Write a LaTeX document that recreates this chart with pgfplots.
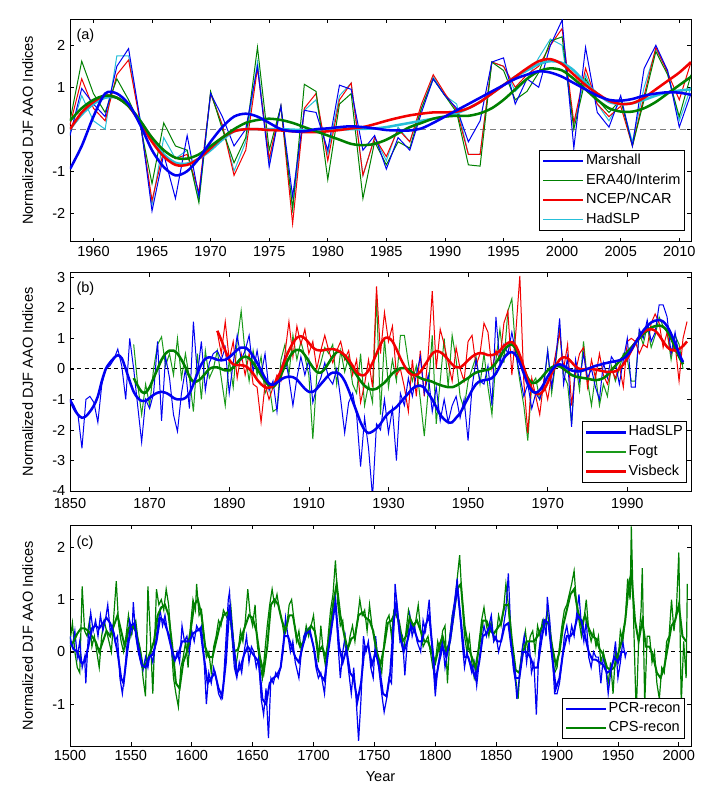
\documentclass[border=0pt]{standalone}
\usepackage{fontspec}
\setmainfont{Liberation Sans}
\usepackage{pgfplots}
\pgfplotsset{compat=1.18}
\definecolor{mblue}{rgb}{0,0,0.95}
\definecolor{mgreen}{rgb}{0,0.5,0}
\definecolor{lgreen}{rgb}{0.1,0.6,0.1}
\definecolor{mred}{rgb}{0.95,0,0}
\definecolor{mcyan}{rgb}{0.15,0.75,0.85}
\newcommand{\fs}{\fontsize{10.9}{12.5}\selectfont}
\pgfplotsset{
  panel/.style={scale only axis, width=465.75pt,
    axis line style={line width=0.5pt}, tick style={black,line width=0.5pt},
    major tick length=3pt, tick align=inside,
    tick label style={font=\fs}, label style={font=\fs},
    /pgf/number format/assume math mode=true, /pgf/number format/1000 sep={},
    ylabel={Normalized DJF AAO Indices},
    ylabel style={at={(axis description cs:-0.068,0.5)}, anchor=center},
    legend cell align=left,
    legend image code/.code={\draw[##1] (0pt,0pt) -- (30pt,0pt);},
    legend style={draw=black, fill=white, font=\fs, inner sep=2pt, row sep=2.2pt,
      nodes={inner sep=1pt, text height=8pt, text depth=2.5pt}},
  },
  thin/.style={line width=0.75pt, forget plot},
  thick/.style={line width=1.9pt, forget plot},
}
\begin{document}
\begin{tikzpicture}
\path[use as bounding box] (0,0) rectangle (542.25pt,600.75pt);
% ---------------- (a)
\begin{axis}[panel, at={(52.5pt,419.5pt)}, anchor=south west, height=166.8pt,
  xmin=1958, xmax=2011, ymin=-2.68, ymax=2.62,
  xtick={1960,1965,...,2010}, ytick={-2,-1,0,1,2},
  legend style={at={(0.99,0.048)}, anchor=south east}]
\addplot[gray, dashed, line width=0.6pt, dash pattern=on 4.5pt off 3pt, forget plot] coordinates {(1958,0) (2011,0)};
% HadSLP thin
\addplot[mcyan, thin] coordinates {(1958,-0.1)(1959,0.8)(1960,0.2)(1961,0.0)(1962,1.75)(1963,1.75)(1964,0.2)(1965,-1.8)(1966,-0.2)(1967,-0.7)(1968,-0.5)(1969,-1.7)(1970,0.85)(1971,0.1)(1972,-1.0)(1973,-0.3)(1974,1.6)(1975,-0.8)(1976,0.55)(1977,-1.9)(1978,0.45)(1979,0.7)(1980,-0.6)(1981,0.8)(1982,1.1)(1983,-1.1)(1984,-0.2)(1985,-0.75)(1986,0.05)(1987,-0.3)(1988,0.5)(1989,1.25)(1990,0.8)(1991,0.6)(1992,-0.6)(1993,-0.6)(1994,1.6)(1995,1.5)(1996,0.9)(1997,1.2)(1998,1.7)(1999,2.15)(2000,2.0)(2001,0.1)(2002,1.3)(2003,0.6)(2004,0.2)(2005,0.7)(2006,-0.3)(2007,1.0)(2008,1.9)(2009,1.4)(2010,0.2)(2011,1.0)};
% NCEP thin
\addplot[mred, thin] coordinates {(1958,0.1)(1959,1.2)(1960,0.5)(1961,0.2)(1962,1.3)(1963,1.65)(1964,0.15)(1965,-1.7)(1966,-0.5)(1967,-0.7)(1968,-0.6)(1969,-1.5)(1970,0.85)(1971,0.1)(1972,-1.1)(1973,-0.5)(1974,1.45)(1975,-0.7)(1976,0.55)(1977,-2.25)(1978,0.5)(1979,0.85)(1980,-0.75)(1981,0.7)(1982,1.1)(1983,-1.1)(1984,-0.2)(1985,-0.65)(1986,0.0)(1987,-0.3)(1988,0.6)(1989,1.3)(1990,0.85)(1991,0.45)(1992,-0.6)(1993,-0.6)(1994,1.6)(1995,1.5)(1996,1.0)(1997,1.3)(1998,1.5)(1999,2.0)(2000,2.4)(2001,0.15)(2002,1.45)(2003,0.6)(2004,0.3)(2005,0.55)(2006,-0.4)(2007,0.8)(2008,1.95)(2009,1.35)(2010,0.7)(2011,1.6)};
% ERA thin
\addplot[mgreen, thin] coordinates {(1958,0.2)(1959,1.62)(1960,0.85)(1961,0.4)(1962,1.2)(1963,0.7)(1964,0.1)(1965,-1.3)(1966,0.15)(1967,-0.4)(1968,-0.5)(1969,-1.75)(1970,0.9)(1971,0.0)(1972,-0.8)(1973,-0.2)(1974,1.95)(1975,-0.5)(1976,0.55)(1977,-1.9)(1978,1.07)(1979,0.9)(1980,-1.2)(1981,0.6)(1982,0.85)(1983,-1.65)(1984,-0.3)(1985,-0.85)(1986,-0.3)(1987,-0.45)(1988,0.5)(1989,1.2)(1990,0.8)(1991,0.4)(1992,-0.85)(1993,-0.88)(1994,1.6)(1995,1.4)(1996,0.7)(1997,0.9)(1998,1.35)(1999,2.1)(2000,2.2)(2001,0.0)(2002,1.2)(2003,0.7)(2004,0.4)(2005,0.7)(2006,-0.4)(2007,0.7)(2008,1.85)(2009,1.3)(2010,0.3)(2011,1.3)};
% Marshall thin
\addplot[mblue, thin] coordinates {(1958,-0.15)(1959,0.97)(1960,0.6)(1961,0.3)(1962,1.5)(1963,1.92)(1964,0.2)(1965,-1.95)(1966,-0.6)(1967,-1.65)(1968,-0.15)(1969,-1.6)(1970,0.85)(1971,0.3)(1972,-0.4)(1973,0.0)(1974,1.5)(1975,-0.9)(1976,0.55)(1977,-1.6)(1978,0.45)(1979,0.4)(1980,-0.5)(1981,1.05)(1982,0.95)(1983,-0.5)(1984,-0.15)(1985,-0.95)(1986,-0.2)(1987,-0.5)(1988,0.4)(1989,1.2)(1990,0.8)(1991,0.5)(1992,-0.3)(1993,0.2)(1994,1.6)(1995,1.7)(1996,0.6)(1997,1.2)(1998,1.0)(1999,2.0)(2000,2.6)(2001,-0.45)(2002,1.95)(2003,0.4)(2004,0.05)(2005,0.8)(2006,-0.4)(2007,1.45)(2008,2.0)(2009,1.4)(2010,0.05)(2011,0.85)};
% smoothed
\addplot[mcyan, thick, smooth] coordinates {(1958,0.0)(1959,0.35)(1960,0.6)(1961,0.75)(1962,0.75)(1963,0.55)(1964,0.2)(1965,-0.25)(1966,-0.6)(1967,-0.8)(1968,-0.82)(1969,-0.7)(1970,-0.5)(1971,-0.25)(1972,-0.05)(1973,0.0)(1974,0.0)(1976,0.0)(1978,-0.02)(1980,0.0)(1982,0.0)(1984,0.02)(1985,0.05)(1986,0.1)(1987,0.15)(1988,0.2)(1989,0.25)(1990,0.3)(1991,0.38)(1992,0.5)(1993,0.65)(1994,0.85)(1995,1.05)(1996,1.25)(1997,1.4)(1998,1.55)(1999,1.62)(2000,1.58)(2001,1.4)(2002,1.1)(2003,0.85)(2004,0.65)(2005,0.6)(2006,0.62)(2007,0.7)(2008,0.8)(2009,0.88)(2010,0.92)(2011,0.95)};
\addplot[mred, thick, smooth] coordinates {(1958,0.0)(1959,0.4)(1960,0.65)(1961,0.8)(1962,0.75)(1963,0.55)(1964,0.15)(1965,-0.3)(1966,-0.65)(1967,-0.85)(1968,-0.85)(1969,-0.7)(1970,-0.45)(1971,-0.2)(1972,-0.05)(1973,0.0)(1974,0.0)(1975,-0.02)(1976,-0.03)(1977,-0.05)(1978,-0.07)(1979,-0.07)(1980,-0.05)(1981,-0.02)(1982,0.02)(1983,0.05)(1984,0.12)(1985,0.2)(1986,0.27)(1987,0.33)(1988,0.37)(1989,0.4)(1990,0.4)(1991,0.42)(1992,0.5)(1993,0.65)(1994,0.85)(1995,1.05)(1996,1.25)(1997,1.45)(1998,1.62)(1999,1.67)(2000,1.55)(2001,1.3)(2002,1.05)(2003,0.85)(2004,0.68)(2005,0.6)(2006,0.62)(2007,0.75)(2008,0.95)(2009,1.15)(2010,1.35)(2011,1.6)};
\addplot[mgreen, thick, smooth] coordinates {(1958,0.2)(1959,0.5)(1960,0.7)(1961,0.8)(1962,0.75)(1963,0.55)(1964,0.2)(1965,-0.2)(1966,-0.5)(1967,-0.68)(1968,-0.7)(1969,-0.6)(1970,-0.4)(1971,-0.2)(1972,0.0)(1973,0.15)(1974,0.22)(1975,0.25)(1976,0.22)(1977,0.15)(1978,0.05)(1979,-0.05)(1980,-0.15)(1981,-0.25)(1982,-0.35)(1983,-0.38)(1984,-0.35)(1985,-0.25)(1986,-0.1)(1987,0.05)(1988,0.15)(1989,0.25)(1990,0.3)(1991,0.32)(1992,0.32)(1993,0.38)(1994,0.5)(1995,0.7)(1996,0.95)(1997,1.2)(1998,1.38)(1999,1.45)(2000,1.4)(2001,1.2)(2002,0.95)(2003,0.7)(2004,0.5)(2005,0.42)(2006,0.42)(2007,0.5)(2008,0.65)(2009,0.85)(2010,1.05)(2011,1.25)};
\addplot[mblue, thick, smooth] coordinates {(1958,-0.95)(1959,-0.4)(1960,0.3)(1961,0.85)(1962,0.85)(1963,0.6)(1964,0.1)(1965,-0.5)(1966,-0.9)(1967,-1.1)(1968,-1.0)(1969,-0.7)(1970,-0.3)(1971,0.05)(1972,0.3)(1973,0.37)(1974,0.3)(1975,0.15)(1976,0.0)(1977,-0.05)(1978,-0.05)(1979,0.0)(1980,0.02)(1981,0.05)(1982,0.07)(1983,0.05)(1984,0.02)(1985,-0.02)(1986,-0.03)(1987,-0.03)(1988,0.02)(1989,0.15)(1990,0.3)(1991,0.45)(1992,0.6)(1993,0.75)(1994,0.9)(1995,1.05)(1996,1.2)(1997,1.3)(1998,1.38)(1999,1.35)(2000,1.25)(2001,1.1)(2002,0.95)(2003,0.8)(2004,0.7)(2005,0.68)(2006,0.72)(2007,0.8)(2008,0.85)(2009,0.88)(2010,0.87)(2011,0.82)};
% legend entries
\addlegendimage{mblue, line width=1.9pt}\addlegendentry{Marshall}
\addlegendimage{mgreen, line width=1.2pt}\addlegendentry{ERA40/Interim}
\addlegendimage{mred, line width=1.3pt}\addlegendentry{NCEP/NCAR}
\addlegendimage{mcyan, line width=1pt}\addlegendentry{HadSLP}
\node[font=\fs, anchor=west] at (rel axis cs:0.003,0.925) {(a)};
\end{axis}
% ---------------- (b)
\begin{axis}[panel, at={(52.5pt,232.5pt)}, anchor=south west, height=163.7pt,
  xmin=1850, xmax=2006, ymin=-4, ymax=3.15,
  xtick={1850,1870,...,1990}, ytick={-4,-3,...,3},
  xticklabel style={yshift=-2pt},
  legend style={at={(0.9936,0.038)}, anchor=south east}]
\addplot[black, dashed, line width=0.6pt, dash pattern=on 3pt off 2.5pt, forget plot] coordinates {(1850,0) (2006,0)};
% Fogt thin
\addplot[lgreen, thin] coordinates {(1866,0.8)(1867,-0.5)(1868,-1.5)(1869,-0.5)(1870,-1.2)(1871,0.0)(1872,0.8)(1873,1.05)(1874,0.1)(1875,0.5)(1876,-0.2)(1877,1.0)(1878,-0.3)(1879,0.5)(1880,-0.3)(1881,-1.4)(1882,0.5)(1883,-1.0)(1884,0.6)(1885,-0.3)(1886,0.0)(1887,0.6)(1888,-0.3)(1889,-1.2)(1890,0.3)(1891,-0.6)(1892,0.9)(1893,1.9)(1894,0.5)(1895,-0.4)(1896,0.6)(1897,-0.2)(1898,0.4)(1899,-0.8)(1900,-0.5)(1901,-1.4)(1902,-1.3)(1903,0.3)(1904,0.8)(1905,-0.2)(1906,1.1)(1907,0.3)(1908,0.9)(1909,0.4)(1910,-0.2)(1911,-2.3)(1912,-0.2)(1913,0.2)(1914,0.7)(1915,0.5)(1916,0.8)(1917,-0.5)(1918,0.6)(1919,-0.1)(1920,0.4)(1921,-0.5)(1922,-0.8)(1923,0.5)(1924,-1.2)(1925,-0.5)(1926,-1.1)(1927,2.4)(1928,-1.5)(1929,1.0)(1930,-0.6)(1931,0.3)(1932,-0.4)(1933,1.1)(1934,1.1)(1935,0.2)(1936,-0.4)(1937,0.1)(1938,-1.0)(1939,-2.2)(1940,-0.7)(1941,1.1)(1942,-1.8)(1943,-0.4)(1944,1.0)(1945,-0.6)(1946,1.1)(1947,0.3)(1948,-0.9)(1949,-1.3)(1950,-0.4)(1951,0.0)(1952,0.4)(1953,-0.5)(1954,0.5)(1955,-0.6)(1956,-1.5)(1957,0.3)(1958,1.3)(1959,0.2)(1960,1.9)(1961,2.3)(1962,0.5)(1963,-0.4)(1964,-1.2)(1965,-2.35)(1966,-0.5)(1967,-0.3)(1968,-1.0)(1969,-0.6)(1970,0.6)(1971,-0.8)(1972,0.2)(1973,1.3)(1974,-0.2)(1975,-0.5)(1976,-1.8)(1977,0.2)(1978,-0.7)(1979,0.9)(1980,-0.4)(1981,-1.2)(1982,-0.2)(1983,-1.2)(1984,-0.5)(1985,-0.9)(1986,0.1)(1987,-0.4)(1988,0.0)(1989,0.5)(1990,0.3)(1991,-0.4)(1992,-0.4)(1993,1.2)(1994,0.8)(1995,1.4)(1996,0.7)(1997,1.1)(1998,1.7)(1999,1.4)(2000,1.2)(2001,0.3)(2002,1.1)(2003,0.8)(2004,0.0)};
% Visbeck thin
\addplot[mred, thin] coordinates {(1887,1.2)(1888,0.5)(1889,1.55)(1890,0.3)(1891,0.9)(1892,-0.3)(1893,0.5)(1894,-0.2)(1895,0.5)(1896,-0.5)(1897,-0.6)(1898,-1.75)(1899,-0.5)(1900,-1.0)(1901,-0.6)(1902,-0.2)(1903,-0.4)(1904,0.5)(1905,1.55)(1906,0.4)(1907,1.4)(1908,0.8)(1909,1.3)(1910,0.5)(1911,0.9)(1912,0.0)(1913,0.6)(1914,1.1)(1915,0.6)(1916,0.2)(1917,0.6)(1918,0.9)(1919,0.3)(1920,0.6)(1921,-0.2)(1922,0.3)(1923,-1.1)(1924,-0.5)(1925,0.3)(1926,-0.6)(1927,2.7)(1928,0.5)(1929,1.85)(1930,0.9)(1931,1.4)(1932,-0.2)(1933,0.0)(1934,-0.6)(1935,-1.4)(1936,0.3)(1937,-0.9)(1938,0.6)(1939,-0.9)(1940,0.5)(1941,2.55)(1942,0.0)(1943,1.3)(1944,0.8)(1945,0.2)(1946,-0.4)(1947,0.7)(1948,0.0)(1949,-0.4)(1950,0.9)(1951,1.1)(1952,0.1)(1953,0.5)(1954,1.5)(1955,1.2)(1956,0.0)(1957,0.6)(1958,0.3)(1959,1.5)(1960,1.9)(1961,-0.2)(1962,1.2)(1963,3.05)(1964,-0.4)(1965,-2.1)(1966,-0.3)(1967,-0.9)(1968,-1.5)(1969,-0.4)(1970,-1.0)(1971,-0.2)(1972,0.5)(1973,1.2)(1974,0.0)(1975,0.8)(1976,-1.2)(1977,-0.1)(1978,0.5)(1979,0.7)(1980,-0.6)(1981,0.3)(1982,-0.3)(1983,0.5)(1984,-0.2)(1985,-0.5)(1986,0.0)(1987,-0.3)(1988,0.1)(1989,-0.6)(1990,0.9)(1991,1.0)(1992,0.9)(1993,0.5)(1994,0.8)(1995,0.7)(1996,1.5)(1997,1.8)(1998,1.5)(1999,0.7)(2000,1.2)(2001,0.5)(2002,0.8)(2003,-0.4)(2004,1.0)(2005,1.55)};
% HadSLP thin
\addplot[mblue, thin] coordinates {(1850,-1.0)(1851,-1.2)(1852,-1.5)(1853,-2.6)(1854,-1.0)(1855,-0.9)(1856,-1.1)(1857,-1.75)(1858,-0.5)(1859,0.0)(1860,0.1)(1861,0.3)(1862,0.65)(1863,0.1)(1864,-1.0)(1865,1.0)(1866,0.0)(1867,-1.2)(1868,-2.4)(1869,-1.0)(1870,-1.3)(1871,-0.8)(1872,0.9)(1873,-1.7)(1874,0.4)(1875,-0.3)(1876,-1.5)(1877,-2.05)(1878,-0.8)(1879,0.0)(1880,-1.3)(1881,1.55)(1882,-0.2)(1883,0.9)(1884,-0.7)(1885,0.2)(1886,0.5)(1887,0.6)(1888,0.3)(1889,0.7)(1890,-0.8)(1891,0.2)(1892,1.1)(1893,0.3)(1894,0.6)(1895,1.1)(1896,-0.1)(1897,0.6)(1898,-0.2)(1899,0.5)(1900,-0.7)(1901,-0.4)(1902,-1.4)(1903,0.0)(1904,0.4)(1905,-0.3)(1906,-1.2)(1907,-0.3)(1908,0.4)(1909,-0.2)(1910,0.3)(1911,-1.1)(1912,-0.6)(1913,-0.3)(1914,0.2)(1915,-0.3)(1916,-0.5)(1917,0.0)(1918,-1.0)(1919,-2.1)(1920,-1.1)(1921,-0.8)(1922,-1.5)(1923,-3.2)(1924,-1.6)(1925,-2.6)(1926,-4.2)(1927,-1.8)(1928,-2.0)(1929,-1.0)(1930,-2.1)(1931,-1.3)(1932,-3.0)(1933,-0.8)(1934,-1.2)(1935,-0.3)(1936,-0.9)(1937,-0.2)(1938,0.4)(1939,-0.8)(1940,-0.2)(1941,-1.4)(1942,-0.6)(1943,-1.7)(1944,-1.0)(1945,-1.75)(1946,-1.2)(1947,-0.9)(1948,-1.6)(1949,-1.0)(1950,-2.35)(1951,-0.6)(1952,0.3)(1953,-0.4)(1954,-0.5)(1955,0.1)(1956,-1.2)(1957,1.7)(1958,0.2)(1959,0.8)(1960,0.5)(1961,1.2)(1962,0.5)(1963,-0.2)(1964,-0.9)(1965,-0.5)(1966,-1.3)(1967,-0.8)(1968,-1.0)(1969,-0.5)(1970,0.6)(1971,-0.6)(1972,0.3)(1973,1.65)(1974,-0.5)(1975,0.4)(1976,-1.9)(1977,0.3)(1978,-0.4)(1979,0.5)(1980,-0.3)(1981,0.0)(1982,-0.6)(1983,-1.0)(1984,0.2)(1985,-0.3)(1986,0.4)(1987,0.2)(1988,-0.5)(1989,0.3)(1990,1.0)(1991,-0.6)(1992,-0.6)(1993,1.3)(1994,1.0)(1995,1.6)(1996,0.9)(1997,1.2)(1998,2.1)(1999,2.1)(2000,1.7)(2001,0.5)(2002,1.2)(2003,0.4)(2004,0.2)};
% smoothed
\addplot[mgreen, thick, smooth] coordinates {(1866,-0.3)(1867,-0.55)(1868,-0.75)(1869,-0.78)(1870,-0.6)(1871,-0.3)(1872,0.0)(1873,0.3)(1874,0.5)(1875,0.6)(1876,0.6)(1877,0.5)(1878,0.3)(1879,0.05)(1880,-0.25)(1881,-0.42)(1882,-0.4)(1883,-0.3)(1884,-0.15)(1885,0.0)(1886,0.05)(1887,0.05)(1888,0.0)(1889,-0.05)(1890,-0.05)(1891,0.05)(1892,0.2)(1893,0.35)(1894,0.4)(1895,0.35)(1896,0.2)(1897,0.0)(1898,-0.2)(1899,-0.4)(1900,-0.55)(1901,-0.6)(1902,-0.45)(1903,-0.2)(1904,0.1)(1905,0.35)(1906,0.55)(1907,0.62)(1908,0.6)(1909,0.45)(1910,0.25)(1911,0.05)(1912,-0.1)(1913,-0.12)(1914,0.0)(1915,0.2)(1916,0.4)(1917,0.55)(1918,0.55)(1919,0.4)(1920,0.2)(1921,0.0)(1922,-0.2)(1923,-0.4)(1924,-0.55)(1925,-0.65)(1926,-0.68)(1927,-0.65)(1928,-0.55)(1929,-0.45)(1930,-0.3)(1931,-0.15)(1932,-0.05)(1933,0.02)(1934,0.03)(1935,-0.02)(1936,-0.12)(1937,-0.22)(1938,-0.3)(1939,-0.35)(1940,-0.38)(1941,-0.42)(1942,-0.48)(1943,-0.53)(1944,-0.57)(1945,-0.6)(1946,-0.6)(1947,-0.55)(1948,-0.47)(1949,-0.38)(1950,-0.3)(1951,-0.2)(1952,-0.12)(1953,-0.08)(1954,-0.05)(1955,-0.03)(1956,0.05)(1957,0.2)(1958,0.4)(1959,0.6)(1960,0.75)(1961,0.8)(1962,0.65)(1963,0.35)(1964,0.0)(1965,-0.3)(1966,-0.45)(1967,-0.45)(1968,-0.35)(1969,-0.2)(1970,-0.05)(1971,0.05)(1972,0.1)(1973,0.08)(1974,0.0)(1975,-0.1)(1976,-0.2)(1977,-0.25)(1978,-0.28)(1979,-0.3)(1980,-0.32)(1981,-0.35)(1982,-0.37)(1983,-0.35)(1984,-0.3)(1985,-0.2)(1986,-0.05)(1987,0.1)(1988,0.25)(1989,0.4)(1990,0.55)(1991,0.7)(1992,0.85)(1993,1.0)(1994,1.15)(1995,1.25)(1996,1.35)(1997,1.4)(1998,1.42)(1999,1.38)(2000,1.25)(2001,1.0)(2002,0.7)(2003,0.4)(2004,0.15)};
\addplot[mred, thick, smooth] coordinates {(1887,1.25)(1888,0.95)(1889,0.6)(1890,0.3)(1891,0.15)(1892,0.12)(1893,0.12)(1894,0.1)(1895,0.0)(1896,-0.15)(1897,-0.35)(1898,-0.5)(1899,-0.6)(1900,-0.62)(1901,-0.55)(1902,-0.35)(1903,-0.05)(1904,0.3)(1905,0.6)(1906,0.85)(1907,1.02)(1908,1.07)(1909,1.0)(1910,0.85)(1911,0.7)(1912,0.62)(1913,0.6)(1914,0.62)(1915,0.65)(1916,0.65)(1917,0.62)(1918,0.55)(1919,0.45)(1920,0.3)(1921,0.1)(1922,-0.1)(1923,-0.2)(1924,-0.2)(1925,-0.05)(1926,0.2)(1927,0.5)(1928,0.8)(1929,1.0)(1930,1.02)(1931,0.9)(1932,0.65)(1933,0.35)(1934,0.1)(1935,-0.1)(1936,-0.2)(1937,-0.2)(1938,-0.1)(1939,0.1)(1940,0.3)(1941,0.5)(1942,0.58)(1943,0.55)(1944,0.45)(1945,0.3)(1946,0.15)(1947,0.05)(1948,0.05)(1949,0.15)(1950,0.28)(1951,0.4)(1952,0.48)(1953,0.52)(1954,0.5)(1955,0.45)(1956,0.45)(1957,0.5)(1958,0.6)(1959,0.75)(1960,0.85)(1961,0.88)(1962,0.75)(1963,0.45)(1964,0.05)(1965,-0.35)(1966,-0.65)(1967,-0.8)(1968,-0.82)(1969,-0.7)(1970,-0.45)(1971,-0.15)(1972,0.1)(1973,0.3)(1974,0.38)(1975,0.35)(1976,0.22)(1977,0.08)(1978,0.0)(1979,-0.02)(1980,0.0)(1981,0.0)(1982,-0.02)(1983,-0.05)(1984,-0.08)(1985,-0.1)(1986,-0.1)(1987,-0.08)(1988,0.0)(1989,0.15)(1990,0.35)(1991,0.6)(1992,0.85)(1993,1.05)(1994,1.2)(1995,1.28)(1996,1.3)(1997,1.25)(1998,1.1)(1999,0.9)(2000,0.72)(2001,0.62)(2002,0.6)(2003,0.65)(2004,0.75)(2005,0.9)};
\addplot[mblue, thick, smooth] coordinates {(1850,-1.0)(1851,-1.3)(1852,-1.5)(1853,-1.6)(1854,-1.55)(1855,-1.4)(1856,-1.2)(1857,-0.9)(1858,-0.4)(1859,0.0)(1860,0.2)(1861,0.35)(1862,0.45)(1863,0.35)(1864,0.0)(1865,-0.4)(1866,-0.75)(1867,-0.95)(1868,-1.05)(1869,-1.05)(1870,-0.95)(1871,-0.85)(1872,-0.78)(1873,-0.75)(1874,-0.78)(1875,-0.85)(1876,-0.95)(1877,-1.0)(1878,-1.0)(1879,-0.95)(1880,-0.8)(1881,-0.5)(1882,-0.15)(1883,0.15)(1884,0.33)(1885,0.38)(1886,0.35)(1887,0.3)(1888,0.28)(1889,0.3)(1890,0.38)(1891,0.5)(1892,0.62)(1893,0.7)(1894,0.7)(1895,0.6)(1896,0.42)(1897,0.2)(1898,-0.05)(1899,-0.3)(1900,-0.48)(1901,-0.52)(1902,-0.45)(1903,-0.35)(1904,-0.28)(1905,-0.25)(1906,-0.27)(1907,-0.35)(1908,-0.5)(1909,-0.65)(1910,-0.75)(1911,-0.75)(1912,-0.65)(1913,-0.5)(1914,-0.35)(1915,-0.2)(1916,-0.12)(1917,-0.12)(1918,-0.2)(1919,-0.4)(1920,-0.7)(1921,-1.05)(1922,-1.4)(1923,-1.75)(1924,-2.0)(1925,-2.1)(1926,-2.05)(1927,-1.95)(1928,-1.8)(1929,-1.6)(1930,-1.45)(1931,-1.35)(1932,-1.25)(1933,-1.1)(1934,-0.95)(1935,-0.8)(1936,-0.65)(1937,-0.57)(1938,-0.55)(1939,-0.62)(1940,-0.8)(1941,-1.0)(1942,-1.25)(1943,-1.5)(1944,-1.65)(1945,-1.75)(1946,-1.75)(1947,-1.6)(1948,-1.45)(1949,-1.2)(1950,-0.95)(1951,-0.7)(1952,-0.5)(1953,-0.4)(1954,-0.37)(1955,-0.35)(1956,-0.3)(1957,-0.15)(1958,0.1)(1959,0.35)(1960,0.5)(1961,0.55)(1962,0.45)(1963,0.2)(1964,-0.15)(1965,-0.5)(1966,-0.72)(1967,-0.78)(1968,-0.7)(1969,-0.5)(1970,-0.25)(1971,-0.05)(1972,0.1)(1973,0.15)(1974,0.1)(1975,0.02)(1976,-0.05)(1977,-0.08)(1978,-0.08)(1979,-0.05)(1980,0.0)(1981,0.05)(1982,0.1)(1983,0.13)(1984,0.17)(1985,0.2)(1986,0.23)(1987,0.25)(1988,0.28)(1989,0.33)(1990,0.45)(1991,0.62)(1992,0.85)(1993,1.05)(1994,1.25)(1995,1.4)(1996,1.52)(1997,1.58)(1998,1.6)(1999,1.55)(2000,1.4)(2001,1.15)(2002,0.85)(2003,0.5)(2004,0.22)};
\addlegendimage{mblue, line width=1.9pt}\addlegendentry{HadSLP}
\addlegendimage{lgreen, line width=1pt}\addlegendentry{Fogt}
\addlegendimage{mred, line width=1.9pt}\addlegendentry{Visbeck}
\node[font=\fs, anchor=west] at (rel axis cs:0.003,0.925) {(b)};
\end{axis}
% ---------------- (c)
\begin{axis}[panel, at={(52.5pt,41.25pt)}, anchor=south west, height=165.5pt,
  xmin=1500, xmax=2010, ymin=-1.8, ymax=2.42,
  xtick={1500,1550,...,2000}, ytick={-1,0,1,2}, xlabel={Year},
  xlabel style={at={(axis description cs:0.5,-0.14)}, anchor=center},
  legend style={at={(0.99,0.032)}, anchor=south east, row sep=1.6pt}]
\addplot[black, dashed, line width=0.6pt, dash pattern=on 3pt off 2.5pt, forget plot] coordinates {(1500,0) (2010,0)};
% CPS thin
\addplot[mgreen, line width=0.9pt, forget plot] coordinates {(1500,0.2)(1502,0.55)(1504,0.0)(1506,-0.3)(1508,-0.4)(1510,1.25)(1512,0.4)(1514,0.3)(1516,0.6)(1518,0.1)(1520,0.3)(1522,0.0)(1524,-0.3)(1526,0.3)(1528,0.6)(1530,0.4)(1532,0.2)(1534,0.0)(1536,0.7)(1538,1.35)(1540,0.5)(1542,0.2)(1544,0.0)(1546,0.3)(1548,0.7)(1550,0.3)(1552,0.5)(1554,0.6)(1556,0.2)(1558,0.0)(1560,-0.5)(1562,-0.85)(1564,1.25)(1566,0.3)(1568,-0.8)(1570,0.5)(1571,1.2)(1573,0.9)(1575,1.0)(1577,0.8)(1579,1.2)(1581,0.9)(1583,0.2)(1585,-0.5)(1587,-0.8)(1589,-1.05)(1591,-0.3)(1593,-0.1)(1595,0.2)(1597,-0.3)(1599,0.5)(1601,1.0)(1603,0.8)(1604,1.3)(1606,0.7)(1608,0.8)(1610,0.3)(1612,-0.1)(1614,0.0)(1616,-0.4)(1618,0.1)(1620,0.3)(1622,0.6)(1624,0.5)(1626,0.8)(1628,0.7)(1630,0.6)(1632,0.9)(1634,0.3)(1636,-0.3)(1638,0.0)(1640,0.4)(1642,0.2)(1644,0.6)(1646,1.2)(1648,0.7)(1650,0.5)(1652,0.9)(1654,0.1)(1656,-0.2)(1658,-0.5)(1660,0.0)(1662,0.5)(1664,0.9)(1666,1.2)(1668,0.9)(1670,1.1)(1672,0.8)(1674,0.6)(1676,0.3)(1678,0.5)(1680,0.9)(1682,1.0)(1684,0.6)(1686,0.2)(1688,0.4)(1690,0.0)(1692,0.2)(1694,0.5)(1696,0.3)(1698,0.5)(1700,0.7)(1702,0.2)(1704,-0.2)(1706,0.5)(1708,0.0)(1710,-0.3)(1712,0.3)(1714,0.8)(1716,1.1)(1718,1.75)(1720,0.9)(1722,0.5)(1724,0.6)(1726,0.1)(1728,0.0)(1730,0.3)(1732,0.5)(1734,0.2)(1736,0.6)(1738,1.0)(1740,0.7)(1742,0.8)(1744,0.4)(1746,0.9)(1748,0.5)(1750,0.2)(1752,0.0)(1754,-0.2)(1756,-0.4)(1758,0.2)(1760,0.6)(1762,0.7)(1764,0.3)(1766,0.8)(1768,0.9)(1770,0.5)(1772,0.3)(1774,0.0)(1776,0.4)(1778,0.8)(1780,0.6)(1782,0.4)(1784,0.6)(1786,0.9)(1788,0.4)(1790,0.1)(1792,0.2)(1794,0.3)(1796,0.0)(1798,-0.3)(1800,-0.2)(1802,0.2)(1804,0.0)(1806,0.4)(1808,0.5)(1810,-0.6)(1812,0.3)(1814,0.7)(1816,0.9)(1818,1.4)(1820,1.85)(1822,1.0)(1824,0.3)(1826,0.0)(1828,0.3)(1830,-0.2)(1832,-0.5)(1834,-0.3)(1836,0.2)(1838,0.6)(1840,0.85)(1842,0.5)(1844,0.3)(1846,0.6)(1848,0.2)(1850,0.3)(1852,0.7)(1854,0.5)(1856,0.8)(1858,1.3)(1860,0.9)(1862,0.3)(1864,-0.2)(1866,-0.5)(1868,-0.9)(1870,-0.2)(1872,0.1)(1874,0.4)(1876,0.0)(1878,0.3)(1880,0.4)(1882,0.0)(1884,0.5)(1886,0.3)(1888,0.6)(1890,0.5)(1892,0.8)(1894,0.4)(1896,0.0)(1898,-0.4)(1900,-0.3)(1902,0.1)(1904,0.5)(1906,0.8)(1908,0.9)(1910,1.1)(1912,1.3)(1914,1.55)(1916,0.9)(1918,0.6)(1920,0.3)(1922,0.6)(1924,1.0)(1926,0.4)(1928,0.2)(1930,0.4)(1932,0.1)(1934,0.3)(1936,-0.2)(1938,0.0)(1940,-0.3)(1942,-0.6)(1944,-0.2)(1946,-0.8)(1948,0.0)(1950,-0.2)(1952,0.4)(1954,0.2)(1956,0.6)(1958,1.4)(1960,1.0)(1961,2.4)(1963,0.5)(1965,-1.2)(1967,0.2)(1969,0.8)(1970,1.6)(1972,-1.0)(1974,0.3)(1976,0.3)(1978,-0.2)(1980,0.0)(1982,-0.6)(1984,-0.9)(1986,-0.3)(1988,-0.4)(1990,0.2)(1992,0.3)(1994,1.0)(1996,0.4)(1998,0.8)(2000,1.9)(2002,-1.0)(2004,0.2)(2006,-0.5)(2007,1.3)};
% PCR thin
\addplot[mblue, line width=0.9pt, forget plot] coordinates {(1500,0.3)(1502,0.1)(1504,0.4)(1506,-0.1)(1508,0.2)(1510,-0.3)(1512,-0.1)(1513,-0.6)(1515,0.3)(1517,0.75)(1519,0.4)(1521,0.6)(1523,0.3)(1525,0.7)(1527,0.4)(1529,0.6)(1531,0.9)(1533,0.4)(1535,0.5)(1537,0.2)(1539,0.3)(1541,-0.5)(1543,-0.8)(1545,-0.4)(1547,0.2)(1549,0.6)(1551,0.4)(1552,0.95)(1554,0.3)(1556,0.0)(1558,-0.2)(1560,-0.35)(1562,-0.1)(1564,-0.3)(1566,0.0)(1568,-0.2)(1570,0.1)(1572,0.5)(1574,0.8)(1576,0.5)(1578,0.7)(1580,0.4)(1582,0.3)(1584,-0.1)(1586,-0.2)(1588,0.0)(1590,-0.2)(1592,0.5)(1594,0.2)(1596,0.3)(1598,0.0)(1600,0.4)(1602,0.2)(1604,0.5)(1606,0.4)(1608,0.5)(1610,-0.1)(1612,-1.0)(1614,-0.4)(1616,-0.6)(1618,-0.3)(1620,-0.5)(1622,-0.8)(1624,-0.9)(1626,-0.6)(1628,0.2)(1630,1.0)(1631,1.15)(1633,0.3)(1635,-0.3)(1637,-0.5)(1639,-0.2)(1641,-0.4)(1643,0.0)(1645,0.3)(1647,-0.2)(1649,0.1)(1651,0.0)(1653,-0.3)(1655,-0.1)(1657,-0.9)(1659,-1.2)(1661,-0.7)(1663,-1.65)(1665,-0.5)(1667,-0.6)(1669,-0.4)(1671,-0.5)(1673,-0.3)(1675,0.0)(1677,0.65)(1679,0.3)(1681,0.0)(1683,0.2)(1685,-0.2)(1688,-0.5)(1690,0.0)(1692,0.3)(1694,0.4)(1696,0.45)(1698,0.3)(1700,0.1)(1702,-0.3)(1704,-0.5)(1706,-0.4)(1709,-0.8)(1711,-0.2)(1713,0.3)(1715,0.6)(1718,1.0)(1720,0.2)(1722,-0.5)(1724,0.0)(1726,0.3)(1728,-0.2)(1731,-0.8)(1733,-0.3)(1735,-0.9)(1737,-1.7)(1739,-0.9)(1741,0.3)(1743,0.0)(1745,0.2)(1747,-0.3)(1749,-0.5)(1751,0.3)(1753,-0.2)(1756,-0.8)(1758,-1.15)(1760,-0.9)(1762,-0.5)(1764,-0.6)(1766,0.5)(1767,1.3)(1769,0.8)(1771,0.2)(1773,0.3)(1775,-0.45)(1777,0.2)(1779,0.7)(1781,0.3)(1783,0.5)(1785,0.2)(1788,0.0)(1790,0.6)(1792,0.4)(1795,1.0)(1797,0.2)(1799,-0.5)(1800,-0.85)(1802,-0.3)(1804,0.0)(1806,0.2)(1808,-0.3)(1810,0.0)(1812,0.3)(1814,0.7)(1816,1.0)(1818,1.4)(1820,0.8)(1822,0.2)(1824,-0.3)(1826,0.0)(1828,-0.2)(1830,-0.4)(1832,-0.2)(1834,-0.65)(1836,-0.2)(1838,0.2)(1840,0.5)(1842,0.3)(1844,0.5)(1846,0.7)(1848,0.2)(1850,0.3)(1852,0.0)(1854,0.2)(1856,0.5)(1858,0.8)(1860,1.5)(1862,0.4)(1864,-0.3)(1866,-0.6)(1867,-0.9)(1869,-0.5)(1871,0.0)(1873,0.3)(1875,-0.2)(1877,0.2)(1879,-0.4)(1881,-0.2)(1883,-1.2)(1885,0.0)(1887,0.4)(1889,0.6)(1891,0.3)(1892,1.05)(1894,0.6)(1896,0.0)(1898,-0.8)(1900,-0.8)(1902,-0.6)(1904,-0.2)(1906,0.3)(1908,0.5)(1910,0.2)(1912,0.5)(1914,0.3)(1916,0.7)(1918,1.1)(1920,0.5)(1922,0.2)(1924,0.6)(1926,-0.1)(1928,-0.3)(1930,0.0)(1932,-0.1)(1934,-0.1)(1936,-0.6)(1938,-0.1)(1940,-0.3)(1942,-0.8)(1944,-0.4)(1946,-0.2)(1948,0.2)(1950,-0.5)(1952,-0.2)(1954,0.2)(1956,-0.1)(1957,0.0)};
% CPS smoothed
\addplot[mgreen, line width=1.5pt, forget plot] coordinates {(1500,0.1)(1503,0.2)(1506,0.35)(1509,0.45)(1512,0.45)(1515,0.4)(1518,0.3)(1521,0.2)(1524,0.0)(1527,0.2)(1530,0.4)(1533,0.3)(1536,0.5)(1539,0.7)(1542,0.4)(1545,0.1)(1548,0.45)(1551,0.5)(1554,0.4)(1557,0.1)(1560,-0.3)(1563,-0.2)(1566,0.0)(1569,0.2)(1572,0.7)(1575,0.85)(1578,0.9)(1581,0.7)(1584,0.1)(1587,-0.6)(1590,-0.7)(1593,-0.2)(1596,0.0)(1599,0.4)(1602,0.9)(1605,1.0)(1608,0.7)(1611,0.1)(1614,-0.1)(1617,-0.1)(1620,0.2)(1623,0.5)(1626,0.7)(1629,0.75)(1632,0.6)(1635,0.0)(1638,0.05)(1641,0.3)(1644,0.5)(1647,0.7)(1650,0.65)(1653,0.4)(1656,-0.1)(1659,-0.4)(1662,0.1)(1665,0.9)(1668,1.0)(1671,0.9)(1674,0.6)(1677,0.4)(1680,0.7)(1683,0.7)(1686,0.3)(1689,0.1)(1692,0.2)(1695,0.4)(1698,0.5)(1701,0.4)(1704,0.0)(1707,0.1)(1710,-0.1)(1713,0.3)(1716,0.9)(1719,1.3)(1722,0.7)(1725,0.35)(1728,0.05)(1731,0.25)(1734,0.3)(1737,0.7)(1740,0.75)(1743,0.65)(1746,0.6)(1749,0.4)(1752,0.0)(1755,-0.25)(1758,0.1)(1761,0.55)(1764,0.6)(1767,0.75)(1770,0.6)(1773,0.2)(1776,0.3)(1779,0.65)(1782,0.5)(1785,0.6)(1788,0.4)(1791,0.2)(1794,0.2)(1797,0.0)(1800,-0.2)(1803,0.1)(1806,0.3)(1809,0.0)(1812,0.2)(1815,0.7)(1818,1.2)(1821,1.3)(1824,0.5)(1827,0.1)(1830,-0.1)(1833,-0.3)(1836,0.1)(1839,0.6)(1842,0.6)(1845,0.4)(1848,0.35)(1851,0.45)(1854,0.55)(1857,0.9)(1860,0.9)(1863,0.2)(1866,-0.35)(1869,-0.4)(1872,0.0)(1875,0.2)(1878,0.2)(1881,0.2)(1884,0.3)(1887,0.45)(1890,0.55)(1893,0.55)(1896,0.1)(1899,-0.25)(1902,0.0)(1905,0.5)(1908,0.8)(1911,1.1)(1914,1.2)(1917,0.8)(1920,0.5)(1923,0.7)(1926,0.45)(1929,0.3)(1932,0.25)(1935,0.05)(1938,-0.05)(1941,-0.3)(1944,-0.35)(1947,-0.3)(1950,-0.05)(1953,0.2)(1956,0.6)(1959,1.3)(1961,1.5)(1964,0.6)(1967,0.2)(1970,0.6)(1973,0.1)(1976,0.1)(1979,-0.1)(1982,-0.4)(1985,-0.5)(1988,-0.3)(1991,0.1)(1994,0.5)(1997,0.6)(2000,0.9)(2003,0.3)(2006,0.2)};
% PCR smoothed
\addplot[mblue, line width=1.5pt, forget plot] coordinates {(1500,0.2)(1503,0.05)(1506,0.0)(1509,-0.2)(1512,-0.2)(1515,0.1)(1518,0.45)(1521,0.5)(1524,0.45)(1527,0.55)(1530,0.65)(1533,0.55)(1536,0.35)(1539,0.0)(1542,-0.5)(1544,-0.6)(1547,0.0)(1550,0.5)(1553,0.55)(1556,0.1)(1559,-0.25)(1562,-0.3)(1565,-0.1)(1568,-0.05)(1571,0.2)(1574,0.65)(1577,0.6)(1580,0.4)(1583,0.1)(1586,-0.15)(1589,-0.05)(1592,0.2)(1595,0.2)(1598,0.2)(1601,0.35)(1604,0.4)(1607,0.45)(1610,-0.1)(1613,-0.6)(1616,-0.5)(1619,-0.4)(1622,-0.7)(1625,-0.85)(1628,-0.2)(1631,0.9)(1634,0.2)(1637,-0.4)(1640,-0.3)(1643,-0.05)(1646,0.1)(1649,0.0)(1652,-0.1)(1655,-0.2)(1658,-0.9)(1661,-1.0)(1664,-0.6)(1667,-0.5)(1670,-0.45)(1673,-0.3)(1676,0.3)(1679,0.3)(1682,0.1)(1685,-0.1)(1688,-0.2)(1691,0.1)(1694,0.35)(1697,0.4)(1700,0.1)(1703,-0.3)(1706,-0.45)(1709,-0.55)(1712,0.0)(1715,0.5)(1718,0.95)(1721,0.1)(1724,-0.2)(1727,0.05)(1730,-0.4)(1733,-0.5)(1736,-0.95)(1739,-0.6)(1742,0.1)(1745,0.1)(1748,-0.25)(1751,0.0)(1754,-0.3)(1757,-0.8)(1760,-0.85)(1763,-0.4)(1766,0.6)(1768,0.95)(1771,0.3)(1774,0.0)(1777,0.2)(1780,0.5)(1783,0.4)(1786,0.2)(1789,0.2)(1792,0.5)(1795,0.7)(1798,0.0)(1800,-0.6)(1803,-0.2)(1806,0.1)(1809,-0.1)(1812,0.2)(1815,0.7)(1818,1.25)(1821,0.6)(1824,-0.1)(1827,-0.1)(1830,-0.3)(1833,-0.5)(1836,-0.2)(1839,0.3)(1842,0.35)(1845,0.5)(1848,0.3)(1851,0.2)(1854,0.2)(1857,0.5)(1860,0.55)(1863,0.0)(1866,-0.5)(1869,-0.5)(1872,0.0)(1875,0.0)(1878,-0.1)(1881,-0.3)(1884,-0.3)(1887,0.2)(1890,0.6)(1893,0.55)(1896,-0.1)(1899,-0.7)(1902,-0.5)(1905,0.0)(1908,0.3)(1911,0.3)(1914,0.4)(1917,0.7)(1920,0.6)(1923,0.3)(1926,0.0)(1929,-0.15)(1932,-0.15)(1935,-0.2)(1938,-0.25)(1941,-0.4)(1944,-0.35)(1947,-0.1)(1950,-0.2)(1953,0.0)(1956,0.0)};
\addlegendimage{mblue, line width=1.5pt}\addlegendentry{PCR-recon}
\addlegendimage{mgreen, line width=1.3pt}\addlegendentry{CPS-recon}
\node[font=\fs, anchor=west] at (rel axis cs:0.003,0.92) {(c)};
\end{axis}
\end{tikzpicture}
\end{document}
